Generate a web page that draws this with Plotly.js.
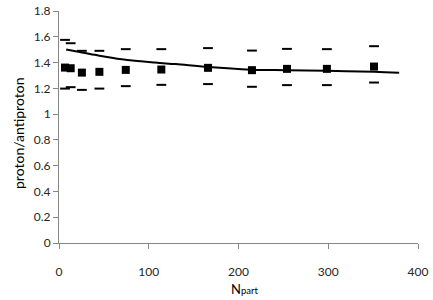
<!DOCTYPE html>
<html><head><meta charset="utf-8">
<script src="https://cdn.plot.ly/plotly-3.0.1.min.js"></script>
<style>html,body{margin:0;padding:0;background:#fff;}#chart{width:433px;height:300px;}</style>
</head><body><div id="chart"></div>
<script>
const npart = [6.7, 13, 25.5, 45, 74.4, 114, 166, 215, 254, 298.5, 351];
const ratio = [1.361, 1.356, 1.322, 1.328, 1.343, 1.346, 1.359, 1.341, 1.351, 1.351, 1.369];
const upper = [1.576, 1.550, 1.491, 1.491, 1.504, 1.504, 1.512, 1.493, 1.506, 1.504, 1.527];
const lower = [1.198, 1.209, 1.188, 1.198, 1.217, 1.227, 1.233, 1.212, 1.225, 1.225, 1.245];
const curveX = [8, 20, 40, 70, 107, 130, 166, 214, 254, 298, 351, 379];
const curveY = [1.502, 1.486, 1.460, 1.426, 1.400, 1.388, 1.365, 1.345, 1.341, 1.336, 1.328, 1.320];
const xTicks = [0, 100, 200, 300, 400];
const yTicks = [0, 0.2, 0.4, 0.6, 0.8, 1, 1.2, 1.4, 1.6, 1.8];
const xTitle = 'N<span style="font-size:9.5px">part</span>';
const yTitle = 'proton/antiproton';

const FONT = 'Lato, "Open Sans", sans-serif';
const traces = [
  {x: curveX, y: curveY, mode: 'lines', line: {color: '#000', width: 2, shape: 'spline'}, hoverinfo: 'skip'},
  {x: npart, y: upper, mode: 'markers', marker: {symbol: 'line-ew-open', size: 7, color: '#000', line: {color: '#000', width: 2}}},
  {x: npart, y: lower, mode: 'markers', marker: {symbol: 'line-ew-open', size: 7, color: '#000', line: {color: '#000', width: 2}}},
  {x: npart, y: ratio, mode: 'markers', marker: {symbol: 'square', size: 8, color: '#000'}}
];
const tickFont = {family: FONT, size: 12, color: '#262626'};
const layout = {
  width: 433, height: 300,
  margin: {l: 59, r: 15, t: 11, b: 57},
  paper_bgcolor: '#fff', plot_bgcolor: '#fff',
  showlegend: false,
  xaxis: {
    range: [0, 400], tickvals: xTicks, ticktext: xTicks.map(String),
    showgrid: false, zeroline: false, showline: true, linecolor: '#868686', linewidth: 1,
    ticks: 'outside', ticklen: 5, tickcolor: '#868686', tickfont: tickFont,
    ticklabelstandoff: 13
  },
  yaxis: {
    range: [0, 1.8], tickvals: yTicks, ticktext: yTicks.map(String),
    showgrid: false, zeroline: false, showline: true, linecolor: '#868686', linewidth: 1,
    ticks: 'outside', ticklen: 5, tickcolor: '#868686', tickfont: tickFont
  },
  annotations: [
    {text: xTitle, xref: 'paper', yref: 'paper', x: 0.5, y: 0, xanchor: 'center', yanchor: 'top',
     xshift: 6, yshift: -36, showarrow: false, font: {family: FONT, size: 13, color: '#000'}},
    {text: yTitle, xref: 'paper', yref: 'paper', x: 0, y: 0.5, xanchor: 'center', yanchor: 'middle',
     xshift: -41, yshift: -7, textangle: -90, showarrow: false, font: {family: FONT, size: 14, color: '#000'}}
  ]
};
Plotly.newPlot('chart', traces, layout, {staticPlot: true, displayModeBar: false});
</script></body></html>
